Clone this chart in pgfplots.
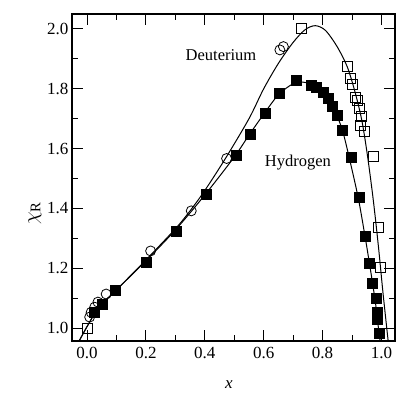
\documentclass[border=0pt]{standalone}
\usepackage{fontspec}
\setmainfont{Liberation Serif}
\usepackage{pgfplots}
\pgfplotsset{compat=1.18}
\begin{document}
\begin{tikzpicture}
\begin{axis}[name=ax, scale only axis, width=323pt, height=327pt,
  xmin=-0.051, xmax=1.046, ymin=0.957, ymax=2.05,
  xtick={0,0.2,0.4,0.6,0.8,1.0}, ytick={1,1.2,1.4,1.6,1.8,2},
  minor x tick num=1, minor y tick num=1,
  tick align=inside, major tick length=11pt, minor tick length=6pt,
  /pgf/number format/fixed, /pgf/number format/fixed zerofill, /pgf/number format/precision=1,
  /pgf/number format/assume math mode=true,
  tick label style={font=\fontsize{17}{19}\selectfont},
  xticklabel style={yshift=-3pt},
  axis line style={line width=1.3pt},
  every tick/.style={line width=1pt, black},
  xlabel={\textit{x}}, ylabel={$\chi_{\mathrm{R}}$},
  every axis x label/.style={at={(axis description cs:0.486,0)}, anchor=center, yshift=-44pt, font=\fontsize{17}{19}\selectfont},
  every axis y label/.style={at={(axis description cs:-0.115,0.39)}, anchor=center, rotate=90, font=\fontsize{21}{23}\selectfont},
]
% Deuterium curve
\addplot[black, line width=1pt, smooth, tension=0.5] coordinates {
(-0.028,0.955) (0.0,1.005) (0.03,1.055) (0.06,1.09) (0.1,1.128) (0.2,1.228) (0.3,1.332) (0.35,1.392)
(0.4,1.46) (0.47,1.567) (0.55,1.70) (0.6,1.80) (0.65,1.885) (0.7,1.955) (0.74,1.997) (0.775,2.011)
(0.81,1.995) (0.85,1.94) (0.884,1.873) (0.91,1.79) (0.933,1.696) (0.952,1.58) (0.972,1.43)
(0.99,1.27) (1.005,1.12) (1.023,0.955)
};
% Hydrogen curve
\addplot[black, line width=1pt, smooth, tension=0.5] coordinates {
(-0.028,0.955) (0.0,1.005) (0.03,1.055) (0.06,1.09) (0.1,1.128) (0.2,1.225) (0.3,1.328)
(0.4,1.445) (0.5,1.572) (0.55,1.645) (0.6,1.715) (0.65,1.78) (0.7,1.817) (0.735,1.822)
(0.77,1.812) (0.8,1.79) (0.83,1.75) (0.848,1.712) (0.868,1.66) (0.89,1.572) (0.921,1.436)
(0.944,1.308) (0.959,1.218) (0.970,1.149) (0.981,1.075) (0.991,0.99) (0.996,0.955)
};
% Deuterium circles
\addplot[only marks, mark=o, mark size=5pt, mark options={line width=0.8pt, black}] coordinates {
(0.009,1.037) (0.014,1.053) (0.026,1.070) (0.037,1.087) (0.065,1.114) (0.216,1.258)
(0.354,1.392) (0.474,1.567) (0.655,1.930) (0.667,1.941)
};
% Deuterium open squares
\addplot[only marks, mark=square, mark size=5pt, mark options={line width=0.8pt, black}] coordinates {
(0.0,1.0) (0.729,2.002) (0.884,1.874) (0.893,1.835) (0.901,1.816) (0.911,1.772) (0.918,1.762)
(0.925,1.735) (0.931,1.707) (0.930,1.679) (0.942,1.657) (0.972,1.573) (0.989,1.337) (0.995,1.202)
};
% Hydrogen filled squares
\addplot[only marks, mark=square*, mark size=5pt, mark options={black, fill=black}] coordinates {
(0.023,1.052) (0.051,1.080) (0.096,1.127) (0.200,1.222) (0.302,1.325) (0.406,1.448) (0.508,1.579)
(0.553,1.649) (0.604,1.718) (0.653,1.785) (0.709,1.829) (0.763,1.813) (0.778,1.805) (0.803,1.790)
(0.820,1.768) (0.834,1.742) (0.848,1.712) (0.868,1.660) (0.897,1.570) (0.923,1.437) (0.944,1.308)
(0.959,1.218) (0.970,1.149) (0.981,1.099) (0.986,1.054) (0.987,1.030) (0.993,0.982)
};
\node[font=\fontsize{16.5}{18}\selectfont] at (axis cs:0.455,1.913) {Deuterium};
\node[font=\fontsize{16.5}{18}\selectfont] at (axis cs:0.716,1.555) {Hydrogen};
\end{axis}
\pgfresetboundingbox
\path ([shift={(-72pt,-56pt)}]ax.south west) rectangle ([shift={(2pt,14pt)}]ax.north east);
\end{tikzpicture}
\end{document}
